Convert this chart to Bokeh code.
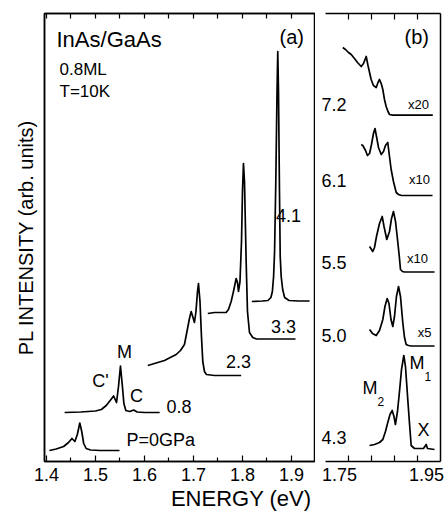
from bokeh.plotting import figure
from bokeh.layouts import row
from bokeh.models import FixedTicker, LinearAxis, Label, Range1d, Title
from bokeh.embed import file_html
from bokeh.resources import INLINE

FONT = "Liberation Sans"

# ---------------- panel (a): PL spectra vs pressure ----------------
e_a0 = [1.406, 1.420, 1.435, 1.445, 1.452, 1.458, 1.463, 1.468, 1.472, 1.476, 1.481, 1.490, 1.510, 1.530, 1.549]
i_a0 = [11, 12.5, 15, 19, 23, 20, 27, 38.5, 30, 18, 13, 11.5, 11, 11, 11]

e_a08 = [1.437, 1.470, 1.500, 1.512, 1.522, 1.530, 1.537, 1.543, 1.547, 1.551, 1.555, 1.558, 1.562, 1.570, 1.578, 1.585, 1.600, 1.631]
i_a08 = [49, 49.5, 50.5, 52, 56, 61, 65.5, 59, 75, 95.5, 75, 58, 51, 50, 51.5, 49.5, 49, 49]

e_a23 = [1.6067, 1.6204, 1.6408, 1.6647, 1.6735, 1.6816, 1.6867, 1.6918, 1.6953, 1.699, 1.702, 1.7051, 1.7082, 1.7102, 1.7133, 1.7163, 1.719, 1.7224, 1.7265, 1.7429, 1.7973]
i_a23 = [96, 98, 101, 107, 111, 117, 130, 143, 150, 144, 139, 150, 170, 178, 160, 125, 100, 90, 87, 86, 86]

e_a33 = [1.7292, 1.7429, 1.7667, 1.7714, 1.7769, 1.7816, 1.7871, 1.7898, 1.7918, 1.7949, 1.798, 1.800, 1.802, 1.8041, 1.8075, 1.8102, 1.8143, 1.821, 1.8286, 1.9082]
i_a33 = [148, 149, 149, 152, 160, 170, 183, 179, 170, 180, 220, 270, 298, 280, 200, 150, 129, 124, 122.5, 122.5]

e_a41 = [1.819, 1.840, 1.852, 1.858, 1.861, 1.8635, 1.8655, 1.868, 1.8705, 1.872, 1.8735, 1.8755, 1.877, 1.879, 1.882, 1.886, 1.895, 1.915, 1.937]
i_a41 = [160, 160.5, 161, 164, 170, 185, 210, 280, 370, 410, 370, 270, 205, 185, 172, 164, 161, 160.5, 160.5]

# ---------------- panel (b): high-pressure spectra ----------------
e_b43 = [1.8266, 1.8352, 1.8439, 1.8497, 1.8543, 1.8583, 1.8622, 1.866, 1.8691, 1.8716, 1.8752, 1.8787, 1.8822, 1.8862, 1.8891, 1.8931, 1.8961, 1.899, 1.9048, 1.9134, 1.9204, 1.9251, 1.9274, 1.9396]
i_b43 = [16, 17, 19, 22, 30, 39, 47, 51, 45, 37, 50, 70, 92, 106, 95, 62, 38, 16, 13, 13, 13, 17, 13, 12]

e_b50 = [1.8266, 1.8318, 1.8382, 1.8439, 1.8497, 1.8534, 1.8573, 1.8604, 1.8639, 1.867, 1.870, 1.8734, 1.877, 1.8804, 1.8844, 1.8874, 1.8903, 1.8943, 1.8996, 1.9396]
i_b50 = [132, 128, 126, 131, 142, 155, 163, 158, 142, 135, 145, 165, 175, 165, 139, 124, 117, 116, 115.5, 115.5]

e_b55 = [1.8266, 1.830, 1.8322, 1.8352, 1.8387, 1.8439, 1.8486, 1.8518, 1.8566, 1.8613, 1.8648, 1.8682, 1.8718, 1.8758, 1.8787, 1.8804, 1.8839, 1.8874, 1.9396]
i_b55 = [215, 212, 210, 214, 225, 238, 245, 235, 222, 230, 243, 250, 240, 219, 203, 192, 190, 189.5, 189.5]

e_b61 = [1.8121, 1.8149, 1.8196, 1.823, 1.8266, 1.830, 1.8334, 1.8361, 1.8387, 1.8422, 1.8469, 1.8509, 1.8543, 1.8583, 1.8613, 1.8642, 1.8682, 1.873, 1.877, 1.8822, 1.9361]
i_b61 = [317, 316, 311, 306, 308, 317, 328, 333, 325, 314, 307, 310, 316, 319, 305, 292, 280, 269, 267, 266, 266]

e_b72 = [1.7801, 1.7848, 1.790, 1.7947, 1.8004, 1.8057, 1.8121, 1.8161, 1.8208, 1.8239, 1.8294, 1.8334, 1.8382, 1.8413, 1.8439, 1.8469, 1.8497, 1.8526, 1.8555, 1.8587, 1.8613, 1.867, 1.9366]
i_b72 = [414, 412, 409, 407, 403, 399, 395, 398, 405, 396, 382, 376, 374, 379, 382, 378, 372, 362, 355, 350, 347, 346.3, 346.3]

ticks_a = [1.4, 1.5, 1.6, 1.7, 1.8, 1.9]
minor_a = [1.45, 1.55, 1.65, 1.75, 1.85]
range_b = (1.75, 1.95)
minor_b = [1.79, 1.83, 1.87, 1.91]
labels_b = ["1.75", "1.95"]
label_pos_b = [1.7743, 1.9257]

H = 513
Y_MAX = 448
LW = 1.7


def lab(p, x, y, text, size, align="left", base="middle"):
    p.add_layout(Label(x=x, y=y, text=text, text_font=FONT, text_font_size=size,
                       text_align=align, text_baseline=base, text_color="black"))


def style_bottom(ax, major_in, minor_in):
    ax.major_tick_in = major_in
    ax.major_tick_out = 0
    ax.minor_tick_in = minor_in
    ax.minor_tick_out = 0
    ax.axis_line_width = 1.5
    ax.major_tick_line_width = 1.2
    ax.minor_tick_line_width = 1.2
    ax.major_label_text_font = FONT
    ax.major_label_text_font_size = "18px"
    ax.major_label_text_color = "black"
    ax.major_label_standoff = 6


# ---------------- figure (a) ----------------
pa = figure(width=315, height=H, output_backend="svg", toolbar_location=None,
            x_range=Range1d(1.396, 1.949), y_range=Range1d(0, Y_MAX),
            min_border_left=44, min_border_right=0, min_border_top=13, min_border_bottom=52)
pa.grid.visible = False
pa.outline_line_color = "black"
pa.outline_line_width = 1.5
pa.background_fill_color = "white"
pa.border_fill_color = "white"

xa = pa.xaxis[0]
xa.ticker = FixedTicker(ticks=ticks_a, minor_ticks=minor_a)
style_bottom(xa, 6, 4)

ya = pa.yaxis[0]
ya.ticker = FixedTicker(ticks=[])
ya.axis_line_width = 1.5
ya.major_label_standoff = 0
ya.axis_label = "PL INTENSITY (arb. units)"
ya.axis_label_text_font = FONT
ya.axis_label_text_font_size = "20px"
ya.axis_label_text_font_style = "normal"
ya.axis_label_text_color = "black"
ya.axis_label_standoff = 8

top_a = LinearAxis(ticker=FixedTicker(ticks=[], minor_ticks=sorted(ticks_a + minor_a)),
                   minor_tick_in=5, minor_tick_out=0, major_label_standoff=0,
                   axis_line_width=1.5, minor_tick_line_width=1.2)
pa.add_layout(top_a, "above")

pa.add_layout(Title(text="ENERGY (eV)", align="right", standoff=0, offset=4,
                    text_font=FONT, text_font_size="22px", text_font_style="normal",
                    text_color="black"), "below")

for e, i in [(e_a0, i_a0), (e_a08, i_a08), (e_a23, i_a23), (e_a33, i_a33), (e_a41, i_a41)]:
    pa.line(e, i, line_color="black", line_width=LW, line_join="round")

lab(pa, 1.4205, 422, "InAs/GaAs", "22px")
lab(pa, 1.4266, 392, "0.8ML", "17px")
lab(pa, 1.4266, 370, "T=10K", "17px")
lab(pa, 1.8756, 425, "(a)", "20px")
lab(pa, 1.5633, 22, "P=0GPa", "18px")
lab(pa, 1.645, 55, "0.8", "18px")
lab(pa, 1.5593, 110, "M", "18px", "center")
lab(pa, 1.5103, 81, "C'", "18px", "center")
lab(pa, 1.5838, 66, "C", "18px", "center")
lab(pa, 1.7919, 100, "2.3", "18px", "center")
lab(pa, 1.8837, 135, "3.3", "18px", "center")
lab(pa, 1.894, 246, "4.1", "18px", "center")

# ---------------- figure (b) ----------------
pb = figure(width=130, height=H, output_backend="svg", toolbar_location=None,
            x_range=Range1d(1.7361, range_b[1]), y_range=Range1d(0, Y_MAX),
            y_axis_location="right",
            min_border_left=2, min_border_right=5, min_border_top=13, min_border_bottom=52)
pb.grid.visible = False
pb.outline_line_color = None
pb.background_fill_color = "white"
pb.border_fill_color = "white"

xb = pb.xaxis[0]
xb.bounds = range_b
xb.ticker = FixedTicker(ticks=label_pos_b, minor_ticks=minor_b)
xb.major_label_overrides = dict(zip(label_pos_b, labels_b))
style_bottom(xb, 0, 6)

yb = pb.yaxis[0]
yb.ticker = FixedTicker(ticks=[])
yb.axis_line_width = 1.5
yb.major_label_standoff = 0

top_b = LinearAxis(ticker=FixedTicker(ticks=[], minor_ticks=minor_b), bounds=range_b,
                   minor_tick_in=6, minor_tick_out=0, major_label_standoff=0,
                   axis_line_width=1.5, minor_tick_line_width=1.2)
pb.add_layout(top_b, "above")

for e, i in [(e_b43, i_b43), (e_b50, i_b50), (e_b55, i_b55), (e_b61, i_b61), (e_b72, i_b72)]:
    pb.line(e, i, line_color="black", line_width=LW, line_join="round")

lab(pb, 1.8874, 425, "(b)", "20px")
for y, t in [(357, "7.2"), (281, "6.1"), (199, "5.5"), (126, "5.0"), (24, "4.3")]:
    lab(pb, 1.743, y, t, "18px")
for x, y, t in [(1.9117, 357, "x20"), (1.9135, 282, "x10"), (1.910, 203, "x10"), (1.9222, 129, "x5")]:
    lab(pb, x, y, t, "13px", "center")
lab(pb, 1.8961, 99, "M", "18px")
lab(pb, 1.9222, 85, "1", "12px")
lab(pb, 1.8143, 74, "M", "18px")
lab(pb, 1.8405, 60, "2", "12px")
lab(pb, 1.910, 32, "X", "18px")

layout = row(pa, pb)
open("out.html", "w").write(file_html(layout, INLINE))
